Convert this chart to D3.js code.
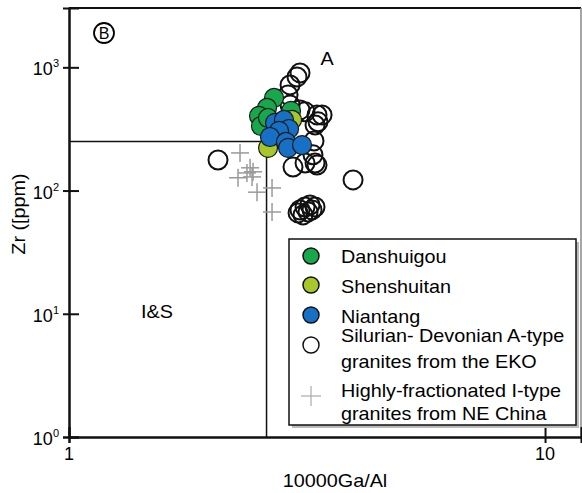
<!DOCTYPE html>
<html>
<head>
<meta charset="utf-8">
<script src="https://cdn.jsdelivr.net/npm/d3@7"></script>
<style>
  html, body { margin: 0; padding: 0; background: #fff; }
  svg { display: block; font-family: "Liberation Sans", Arial, sans-serif; }
</style>
</head>
<body>
<svg id="chart" width="582" height="493"></svg>
<script>
// 10000Ga/Al vs Zr discrimination diagram (Whalen et al. style)
const yTickValues = [1, 10, 100, 1000];
const yTickExponents = ["0", "1", "2", "3"];
const xTickValues = [1, 10];
const xTickLabels = ["1", "10"];

// field boundary between A-type and I&S granites
const gaAlLimit = 2.6;
const zrLimit = 250;

// Danshuigou
const danshuigouGaAl = [2.696, 2.606, 2.507, 2.531, 2.927, 2.619];
const danshuigouZr   = [564, 468, 403, 334, 443, 388];
// Shenshuitan
const shenshuitanGaAl = [2.619, 2.941];
const shenshuitanZr   = [222, 374];
// Niantang
const niantangGaAl = [2.709, 2.829, 2.899, 2.762, 2.644, 2.856, 2.885, 3.087];
const niantangZr   = [354, 374, 316, 305, 272, 248, 222, 234];
// Silurian-Devonian A-type granites from the EKO
const ekoGaAl = [3.013, 3.057, 2.913, 2.885, 2.913, 3.057, 3.132, 3.319, 3.401, 3.335,
                 3.287, 3.271, 3.255, 3.287, 3.319, 2.955, 3.132, 3.951, 2.056,
                 3.057, 3.132, 3.208, 3.287, 3.102, 3.178, 3.028, 3.240];
const ekoZr   = [836, 901, 720, 597, 495, 451, 435, 411, 411, 361,
                 341, 253, 195, 167, 161, 155, 167, 122, 177,
                 69.6, 73.6, 76.4, 73.6, 63.4, 67.1, 65.8, 69.6];
// Highly-fractionated I-type granites from NE China
const neChinaGaAl = [2.287, 2.401, 2.436, 2.365, 2.265, 2.424, 2.483, 2.670, 2.670];
const neChinaZr   = [202, 153, 142, 139, 127, 129, 97, 105, 67];

const legendLabels = [
  ["Danshuigou"],
  ["Shenshuitan"],
  ["Niantang"],
  ["Silurian- Devonian A-type", "granites from the EKO"],
  ["Highly-fractionated I-type", "granites from NE China"]
];

const colors = {
  danshuigou: "#19a74c",
  shenshuitan: "#a7c72b",
  niantang: "#1670c6",
  neChina: "#9a9a9a"
};

const svg = d3.select("#chart");
const plotLeft = 69, plotRight = 581, plotTop = 8, plotBottom = 437;

const x = d3.scaleLog().domain([1, 11.9]).range([plotLeft, plotRight]);
const y = d3.scaleLog().domain([1, 3030]).range([plotBottom, plotTop]);

const pts = (xs, ys) => xs.map((v, i) => ({ x: v, y: ys[i] }));

// text with a slightly widened face
function label(parent, tx, ty, str, opts = {}) {
  const sx = opts.sx ?? 1.1;
  const rot = opts.rotate ? ` rotate(${opts.rotate})` : "";
  return parent.append("text")
    .attr("transform", `translate(${tx},${ty})${rot} scale(${sx},1)`)
    .attr("text-anchor", opts.anchor || "start")
    .attr("font-size", opts.size || 18)
    .attr("fill", "#000")
    .text(str);
}

// frame: top line black, right edge grey
svg.append("line").attr("x1", plotLeft).attr("x2", plotRight).attr("y1", plotTop).attr("y2", plotTop)
  .attr("stroke", "#111").attr("stroke-width", 2);
svg.append("line").attr("x1", plotRight).attr("x2", plotRight).attr("y1", plotTop).attr("y2", plotBottom)
  .attr("stroke", "#888").attr("stroke-width", 1.5);

// field boundaries
svg.append("line")
  .attr("x1", x(1)).attr("x2", x(gaAlLimit))
  .attr("y1", y(zrLimit)).attr("y2", y(zrLimit))
  .attr("stroke", "#111").attr("stroke-width", 1.5);
svg.append("line")
  .attr("x1", x(gaAlLimit)).attr("x2", x(gaAlLimit))
  .attr("y1", y(zrLimit)).attr("y2", y(1))
  .attr("stroke", "#111").attr("stroke-width", 1.5);

// axes: outward ticks plus inner tick extensions
svg.append("g").attr("transform", `translate(${plotLeft},0)`)
  .call(d3.axisLeft(y).tickValues(yTickValues).tickSize(6).tickFormat(() => ""));
svg.append("g").attr("transform", `translate(${plotLeft},0)`)
  .call(d3.axisLeft(y).tickValues(yTickValues).tickSize(-10).tickFormat(() => ""));
svg.append("g").attr("transform", `translate(0,${plotBottom})`)
  .call(d3.axisBottom(x).tickValues(xTickValues).tickSize(6).tickFormat(() => ""));
svg.append("g").attr("transform", `translate(0,${plotBottom})`)
  .call(d3.axisBottom(x).tickValues(xTickValues).tickSize(-10).tickFormat(() => ""));

svg.selectAll(".domain").attr("stroke", "#111").attr("stroke-width", 2);
svg.selectAll(".tick line").attr("stroke", "#111").attr("stroke-width", 2);

// y tick labels as powers of ten
yTickValues.forEach((v, i) => {
  const t = svg.append("text")
    .attr("x", 59).attr("y", y(v) + 8)
    .attr("text-anchor", "end")
    .attr("font-size", 18).attr("fill", "#000");
  t.append("tspan").text("10");
  t.append("tspan").attr("dy", -8).attr("font-size", 11).text(yTickExponents[i]);
});
xTickValues.forEach((v, i) => {
  svg.append("text")
    .attr("x", x(v)).attr("y", 460)
    .attr("text-anchor", "middle")
    .attr("font-size", 18).attr("fill", "#000")
    .text(xTickLabels[i]);
});

// axis titles
label(svg, 335, 487, "10000Ga/Al", { anchor: "middle" });
label(svg, 25, 214, "Zr ([ppm)", { anchor: "middle", rotate: -90 });

// panel mark and field labels
svg.append("circle").attr("cx", 104).attr("cy", 33).attr("r", 10)
  .attr("fill", "none").attr("stroke", "#000").attr("stroke-width", 1.8);
svg.append("text").attr("x", 104).attr("y", 39).attr("text-anchor", "middle")
  .attr("font-size", 16).attr("fill", "#000").text("B");
label(svg, 327, 65, "A", { anchor: "middle" });
label(svg, 157, 318, "I&S", { anchor: "middle" });

// data points
const R = 9.5;
function drawCircles(data, fill, stroke, sw) {
  svg.append("g").selectAll("circle").data(data).join("circle")
    .attr("cx", d => x(d.x)).attr("cy", d => y(d.y)).attr("r", R)
    .attr("fill", fill).attr("stroke", stroke).attr("stroke-width", sw);
}
function drawPluses(data, color, arm, sw) {
  const g = svg.append("g").attr("stroke", color).attr("stroke-width", sw);
  data.forEach(d => {
    const cx = x(d.x), cy = y(d.y);
    g.append("line").attr("x1", cx - arm).attr("x2", cx + arm).attr("y1", cy).attr("y2", cy);
    g.append("line").attr("x1", cx).attr("x2", cx).attr("y1", cy - arm).attr("y2", cy + arm);
  });
}

drawCircles(pts(ekoGaAl, ekoZr), "none", "#111", 2);
drawPluses(pts(neChinaGaAl, neChinaZr), colors.neChina, 9, 1.5);
drawCircles(pts(danshuigouGaAl, danshuigouZr), colors.danshuigou, "#1a1a1a", 1.2);
drawCircles(pts(shenshuitanGaAl, shenshuitanZr), colors.shenshuitan, "#1a1a1a", 1.2);
drawCircles(pts(niantangGaAl, niantangZr), colors.niantang, "#1a1a1a", 1.2);

// legend
const lg = svg.append("g");
lg.append("rect").attr("x", 292).attr("y", 242).attr("width", 287).attr("height", 186)
  .attr("fill", "#bbb");
lg.append("rect").attr("x", 289).attr("y", 239).attr("width", 287).attr("height", 186)
  .attr("fill", "#fff").attr("stroke", "#111").attr("stroke-width", 1.5);

const symX = 311, textX = 341;
const symY = [256, 285, 315, 345, 396];
const textY = [[263], [293], [323], [342, 368], [397, 420]];
const symFill = [colors.danshuigou, colors.shenshuitan, colors.niantang, "#fff"];
symFill.forEach((f, i) => {
  lg.append("circle").attr("cx", symX).attr("cy", symY[i]).attr("r", 8)
    .attr("fill", f).attr("stroke", "#111").attr("stroke-width", 1.5);
});
lg.append("line").attr("x1", symX - 10).attr("x2", symX + 10).attr("y1", symY[4]).attr("y2", symY[4])
  .attr("stroke", "#aaa").attr("stroke-width", 1.2);
lg.append("line").attr("x1", symX).attr("x2", symX).attr("y1", symY[4] - 10).attr("y2", symY[4] + 10)
  .attr("stroke", "#aaa").attr("stroke-width", 1.2);
legendLabels.forEach((lines, i) => {
  lines.forEach((s, j) => label(lg, textX, textY[i][j], s));
});
</script>
</body>
</html>
